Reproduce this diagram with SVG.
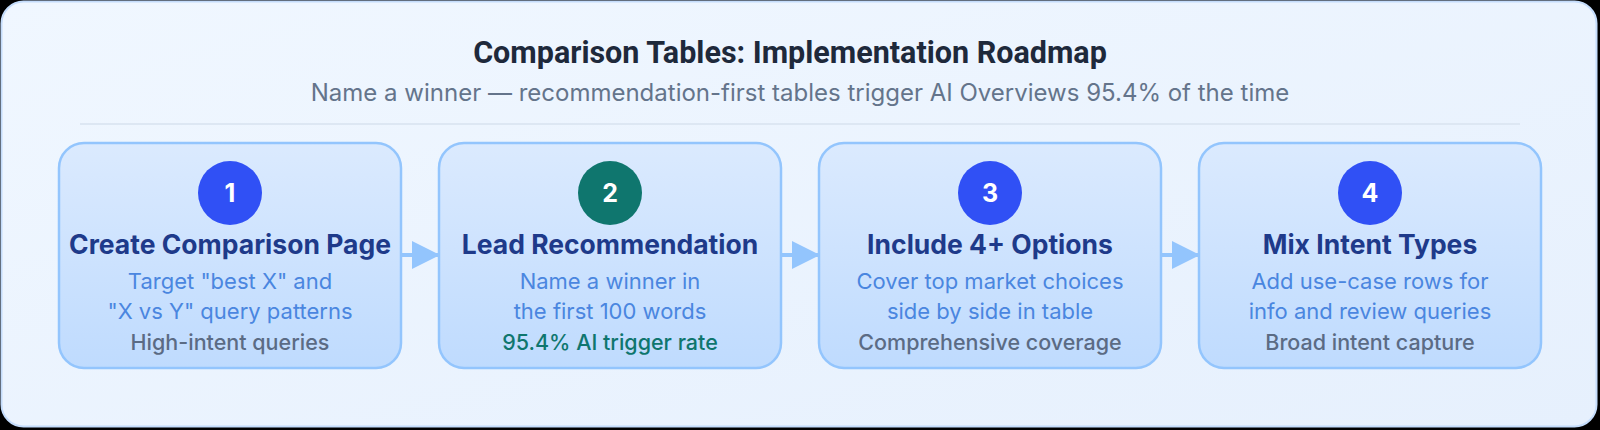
<svg xmlns="http://www.w3.org/2000/svg" width="1600" height="430" viewBox="0 0 1600 430">
  <defs>
    <linearGradient id="panelGrad" x1="0" y1="0" x2="1" y2="1">
      <stop offset="0" stop-color="#f0f7ff"/>
      <stop offset="1" stop-color="#e6f0fd"/>
    </linearGradient>
    <linearGradient id="nodeGrad" x1="0" y1="0" x2="0" y2="1">
      <stop offset="0" stop-color="#dbeafe"/>
      <stop offset="1" stop-color="#bfdbfe"/>
    </linearGradient>
    <marker id="arrow" viewBox="0 0 28 28" refX="27" refY="14" markerWidth="28" markerHeight="28" markerUnits="userSpaceOnUse" orient="auto">
      <path d="M0,0 L28,14 L0,28 Z" fill="#93c5fd"/>
    </marker>
    <style>
      .node-box { fill: url(#nodeGrad); stroke: #93c5fd; stroke-width: 2.5; }
      .badge { fill: #3050f5; }
      .badge-teal { fill: #0f766e; }
      .badge-num { font-family: Inter, "Liberation Sans", sans-serif; font-weight: 700; font-size: 25px; fill: #ffffff; text-anchor: middle; }
      .node-title { font-family: Inter, "Liberation Sans", sans-serif; font-weight: 700; font-size: 26.5px; fill: #1e3a8a; text-anchor: middle; }
      .node-desc { font-family: Inter, "Liberation Sans", sans-serif; font-weight: 400; font-size: 22px; fill: #4a86e0; text-anchor: middle; }
      .node-note { font-family: Inter, "Liberation Sans", sans-serif; font-weight: 500; font-size: 21.5px; fill: #5b6b84; text-anchor: middle; }
      .node-note-teal { fill: #0f766e; }
      .connector { stroke: #93c5fd; stroke-width: 4; fill: none; }
      .title { font-family: Roboto, Inter, "Liberation Sans", sans-serif; font-weight: 700; font-size: 30.5px; fill: #1e293b; text-anchor: middle; }
      .subtitle { font-family: Inter, "Liberation Sans", sans-serif; font-weight: 400; font-size: 24px; fill: #64748b; text-anchor: middle; }
    </style>
  </defs>

  <rect x="0" y="0" width="1600" height="430" fill="#000000"/>
  <rect x="1.5" y="1.5" width="1595" height="425" rx="22" fill="url(#panelGrad)" stroke="#c4dcfb" stroke-width="2"/>

  <g id="header">
    <text class="title" x="790" y="63">Comparison Tables: Implementation Roadmap</text>
    <text class="subtitle" x="800" y="101">Name a winner — recommendation-first tables trigger AI Overviews 95.4% of the time</text>
    <line x1="80" y1="124" x2="1520" y2="124" stroke="#dde7f3" stroke-width="2"/>
  </g>

  <g id="connectors">
    <line class="connector" x1="401" y1="255" x2="439" y2="255" marker-end="url(#arrow)"/>
    <line class="connector" x1="781" y1="255" x2="819" y2="255" marker-end="url(#arrow)"/>
    <line class="connector" x1="1161" y1="255" x2="1199" y2="255" marker-end="url(#arrow)"/>
  </g>

  <g id="node1">
    <rect class="node-box" x="59" y="143" width="342" height="225" rx="25"/>
    <circle class="badge" cx="230" cy="193" r="32"/>
    <text class="badge-num" x="230" y="202">1</text>
    <text class="node-title" x="230" y="254">Create Comparison Page</text>
    <text class="node-desc" x="230" y="289">Target "best X" and</text>
    <text class="node-desc" x="230" y="319">"X vs Y" query patterns</text>
    <text class="node-note" x="230" y="350">High-intent queries</text>
  </g>

  <g id="node2">
    <rect class="node-box" x="439" y="143" width="342" height="225" rx="25"/>
    <circle class="badge-teal" cx="610" cy="193" r="32"/>
    <text class="badge-num" x="610" y="202">2</text>
    <text class="node-title" x="610" y="254">Lead Recommendation</text>
    <text class="node-desc" x="610" y="289">Name a winner in</text>
    <text class="node-desc" x="610" y="319">the first 100 words</text>
    <text class="node-note node-note-teal" x="610" y="350">95.4% AI trigger rate</text>
  </g>

  <g id="node3">
    <rect class="node-box" x="819" y="143" width="342" height="225" rx="25"/>
    <circle class="badge" cx="990" cy="193" r="32"/>
    <text class="badge-num" x="990" y="202">3</text>
    <text class="node-title" x="990" y="254">Include 4+ Options</text>
    <text class="node-desc" x="990" y="289">Cover top market choices</text>
    <text class="node-desc" x="990" y="319">side by side in table</text>
    <text class="node-note" x="990" y="350">Comprehensive coverage</text>
  </g>

  <g id="node4">
    <rect class="node-box" x="1199" y="143" width="342" height="225" rx="25"/>
    <circle class="badge" cx="1370" cy="193" r="32"/>
    <text class="badge-num" x="1370" y="202">4</text>
    <text class="node-title" x="1370" y="254">Mix Intent Types</text>
    <text class="node-desc" x="1370" y="289">Add use-case rows for</text>
    <text class="node-desc" x="1370" y="319">info and review queries</text>
    <text class="node-note" x="1370" y="350">Broad intent capture</text>
  </g>
</svg>
